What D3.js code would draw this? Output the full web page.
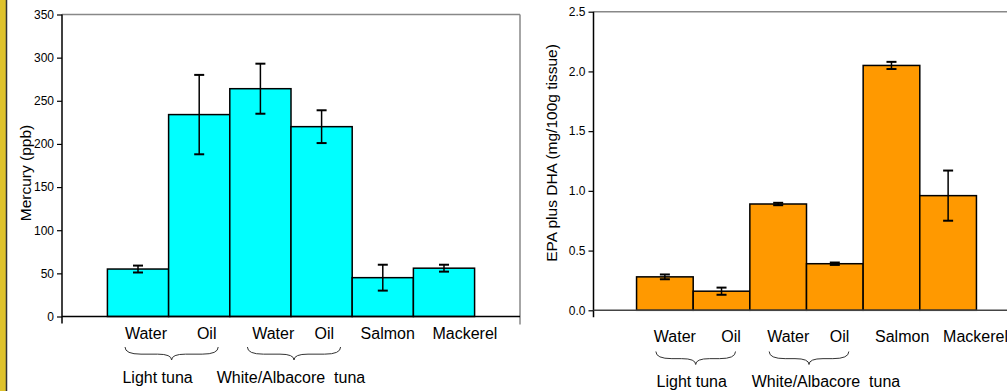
<!DOCTYPE html>
<html>
<head>
<meta charset="utf-8">
<script src="https://cdn.jsdelivr.net/npm/d3@7"></script>
<style>
  html, body { margin: 0; padding: 0; background: #fff; }
  svg { display: block; font-family: "Liberation Sans", Arial, sans-serif; }
  text { white-space: pre; }
</style>
</head>
<body>
<svg id="chart" width="1007" height="391"></svg>
<script>
// ---- data ----
const categories = ["Water", "Oil", "Water", "Oil", "Salmon", "Mackerel"];
const groupLabels = ["Light tuna", "White/Albacore  tuna"];
const mercuryValues = [55, 234, 264, 220, 45, 56];
const mercuryErrors = [4, 46, 29, 19, 15, 4];
const mercuryTicks = [0, 50, 100, 150, 200, 250, 300, 350];
const omegaValues = [0.28, 0.16, 0.89, 0.39, 2.05, 0.96];
const omegaErrors = [0.02, 0.03, 0.01, 0.01, 0.03, 0.21];
const omegaTicks = [0.0, 0.5, 1.0, 1.5, 2.0, 2.5];

const svg = d3.select("#chart");

// left decorative strip
svg.append("rect").attr("x", 0).attr("y", 0).attr("width", 6).attr("height", 391).attr("fill", "#DEC22C");
svg.append("line").attr("x1", 6.5).attr("x2", 6.5).attr("y1", 0).attr("y2", 391).attr("stroke", "#333").attr("stroke-width", 1.5);

function drawChart(cfg) {
  const g = svg.append("g");
  const x = d3.scaleBand().domain(d3.range(categories.length))
    .range([cfg.left, cfg.right]).paddingInner(0).paddingOuter(cfg.outer);
  const y = d3.scaleLinear().domain([0, cfg.max]).range([cfg.bottom, cfg.top]);

  // frame (top and right)
  g.append("line").attr("x1", cfg.left).attr("x2", cfg.right).attr("y1", cfg.top).attr("y2", cfg.top)
    .attr("stroke", "#888").attr("stroke-width", 1.5);
  g.append("line").attr("x1", cfg.right).attr("x2", cfg.right).attr("y1", cfg.top).attr("y2", cfg.bottom + 8)
    .attr("stroke", "#888").attr("stroke-width", 1.5);

  // y axis
  const yAxis = d3.axisLeft(y).tickValues(cfg.ticks).tickFormat(cfg.fmt).tickSize(5).tickPadding(3);
  const ya = g.append("g").attr("transform", `translate(${cfg.left},0)`).call(yAxis);
  ya.select(".domain").remove();
  ya.selectAll(".tick line").attr("stroke", "#000").attr("stroke-width", 1.2);
  ya.selectAll(".tick text").attr("font-size", 12).attr("fill", "#000")
    .attr("font-family", "'Liberation Sans', Arial, sans-serif");
  g.append("line").attr("x1", cfg.left).attr("x2", cfg.left).attr("y1", cfg.top).attr("y2", cfg.bottom + 7)
    .attr("stroke", "#000").attr("stroke-width", 1.5);

  // bars
  g.selectAll("rect.bar").data(cfg.values).join("rect").attr("class", "bar")
    .attr("x", (d, i) => x(i)).attr("width", x.bandwidth())
    .attr("y", d => y(d)).attr("height", d => y(0) - y(d))
    .attr("fill", cfg.color).attr("stroke", "#000").attr("stroke-width", 1.5);

  // x axis line
  g.append("line").attr("x1", cfg.left).attr("x2", cfg.right).attr("y1", y(0)).attr("y2", y(0))
    .attr("stroke", cfg.axisColor).attr("stroke-width", 1.6);

  // error bars
  const cap = 5;
  cfg.values.forEach((v, i) => {
    const cx = x(i) + x.bandwidth() / 2;
    const e = cfg.errors[i];
    g.append("line").attr("x1", cx).attr("x2", cx).attr("y1", y(v + e)).attr("y2", y(v - e))
      .attr("stroke", "#000").attr("stroke-width", 1.5);
    [v + e, v - e].forEach(t => {
      g.append("line").attr("x1", cx - cap).attr("x2", cx + cap).attr("y1", y(t)).attr("y2", y(t))
        .attr("stroke", "#000").attr("stroke-width", 2);
    });
  });

  // category labels
  g.selectAll("text.cat").data(categories).join("text").attr("class", "cat")
    .attr("x", (d, i) => x(i) + x.bandwidth() / 2 + cfg.labelShift[i])
    .attr("y", cfg.labelY).attr("text-anchor", "middle").attr("font-size", 16).attr("fill", "#000")
    .text(d => d);

  // braces and group labels
  const pairs = [[0, 1], [2, 3]];
  pairs.forEach((p, k) => {
    const x0 = x(p[0]) + x.bandwidth() / 2 + cfg.braceShift[0];
    const x1 = x(p[1]) + x.bandwidth() / 2 + cfg.braceShift[1];
    const xm = (x0 + x1) / 2;
    const y0 = cfg.braceY, h = 13, ym = y0 + h * 0.55, yb = y0 + h;
    const path = `M${x0},${y0} Q${x0},${ym} ${x0 + 16},${ym} L${xm - 14},${ym} Q${xm},${ym} ${xm},${yb} ` +
      `Q${xm},${ym} ${xm + 14},${ym} L${x1 - 16},${ym} Q${x1},${ym} ${x1},${y0}`;
    g.append("path").attr("d", path).attr("fill", "none").attr("stroke", "#333").attr("stroke-width", 1);
    g.append("text").attr("x", xm + cfg.groupShift[k]).attr("y", cfg.groupY)
      .attr("text-anchor", "middle").attr("font-size", 16).attr("fill", "#000").text(groupLabels[k]);
  });

  // y title
  g.append("text").attr("transform", `translate(${cfg.titleX},${cfg.titleY}) rotate(-90)`)
    .attr("text-anchor", "middle").attr("font-size", 15.5).attr("fill", "#000").text(cfg.title);
}

drawChart({
  left: 62, right: 520, top: 14.5, bottom: 316.5, outer: 0.742, max: 350,
  ticks: mercuryTicks, fmt: d3.format("d"), values: mercuryValues, errors: mercuryErrors,
  color: "#00FFFF", axisColor: "#000",
  labelShift: [8, 7.5, 12.8, 2.8, 4.9, 20.9], labelY: 338.5,
  braceShift: [-13, 19], braceY: 347, groupShift: [-14, -3], groupY: 383,
  title: "Mercury (ppb)", titleX: 31, titleY: 173
});

drawChart({
  left: 593.5, right: 1019.5, top: 11.7, bottom: 310.3, outer: 0.76, max: 2.5,
  ticks: omegaTicks, fmt: d3.format(".1f"), values: omegaValues, errors: omegaErrors,
  color: "#FF9900", axisColor: "#444",
  labelShift: [10, 9.6, 10, 4.7, 10.7, 27.4], labelY: 342,
  braceShift: [-9, 14], braceY: 351.5, groupShift: [-4, 17], groupY: 386.5,
  title: "EPA plus DHA (mg/100g tissue)", titleX: 557, titleY: 153
});
</script>
</body>
</html>
